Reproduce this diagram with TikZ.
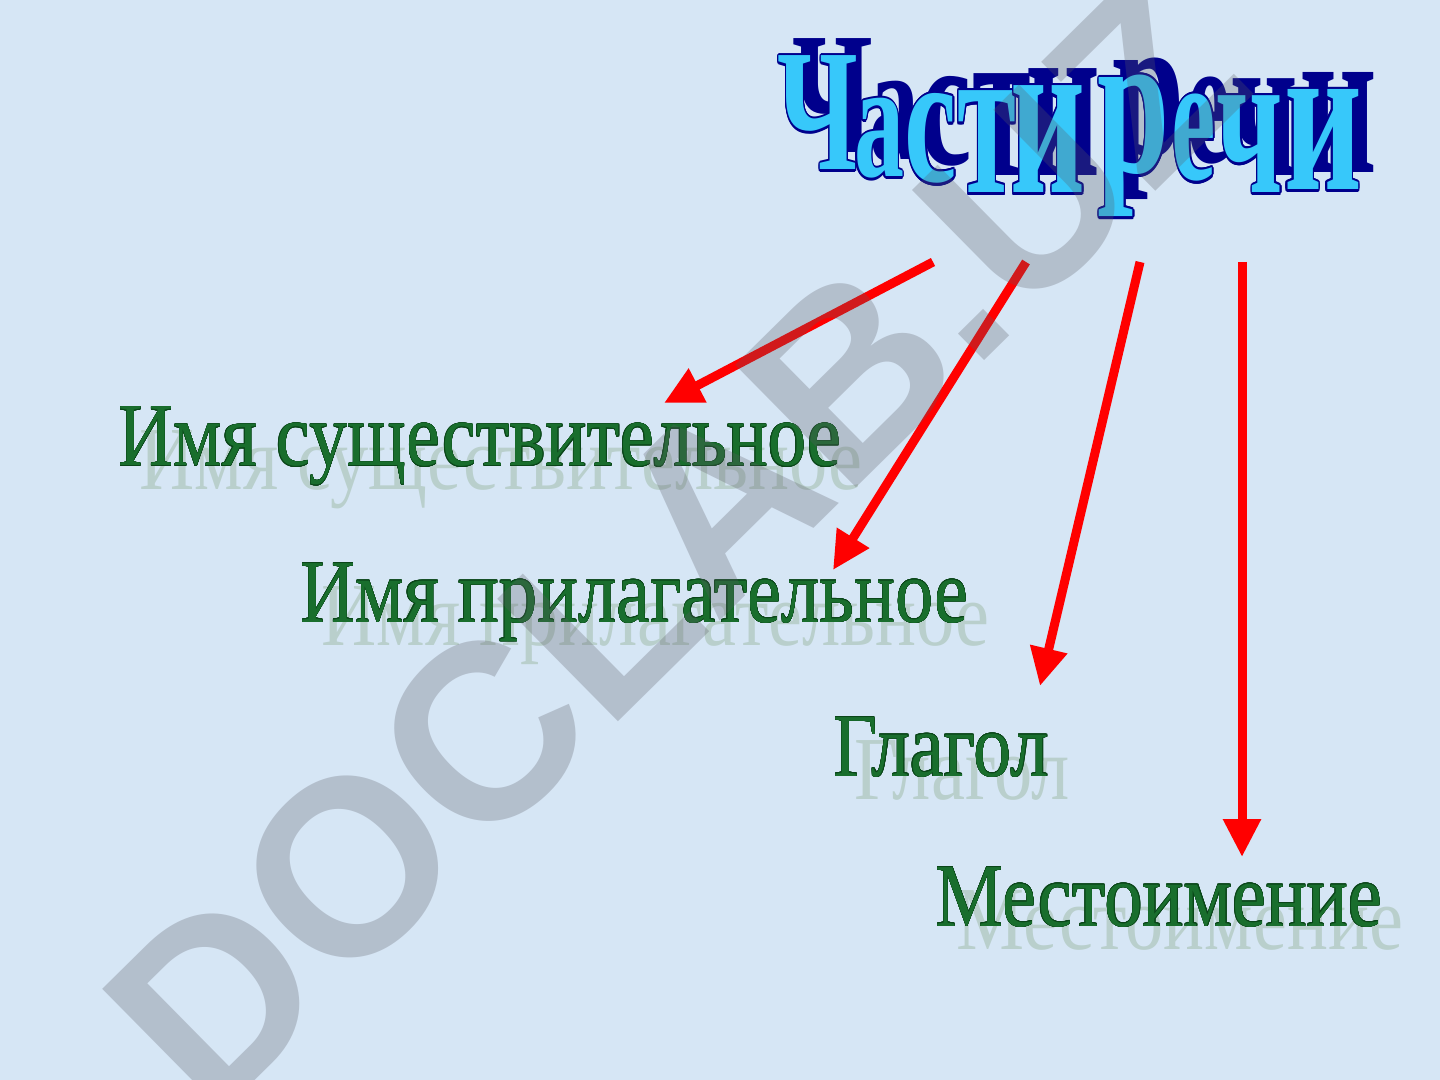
\documentclass[tikz,border=0pt]{standalone}
\usepackage{fontspec}
\setmainfont{Liberation Serif}
\newfontfamily\markfont{Liberation Sans}
\usepackage{graphicx}
\usepackage{contour}
\contourlength{0.6pt}
\usetikzlibrary{%
  arrows.meta,%
  positioning,%
  calc%
}

\definecolor{slidebg}{RGB}{214,230,245}
\definecolor{titlelight}{RGB}{55,200,250}
\definecolor{titledark}{RGB}{0,0,140}
\definecolor{partgreen}{RGB}{25,110,45}
\definecolor{partedge}{RGB}{10,70,25}
\definecolor{partshade}{RGB}{150,180,155}
\definecolor{arrowred}{RGB}{255,0,0}
\definecolor{markgray}{RGB}{90,90,100}

\newcommand{\squeeze}[1]{\scalebox{0.85}[1]{#1}}

\begin{document}
\begin{tikzpicture}[
  x=0.5pt, y=-0.5pt,
  part/.style={anchor=base west, inner sep=0pt, text=partgreen, font=\fontsize{45}{45}\selectfont},
  partshadow/.style={part, text=partshade, opacity=0.45},
  letter/.style={anchor=base, inner sep=0pt, font=\bfseries\fontsize{50}{50}\selectfont},
  redarrow/.style={draw=arrowred, line width=4.5pt, -{Triangle[length=19pt,width=18pt]}}]

\useasboundingbox (0,0) rectangle (1440,1080);
\fill[slidebg] (0,0) rectangle (1440,1080);

% parts of speech
\node[partshadow] (nounsh) at (139,489) {\squeeze{Имя существительное}};
\node[part] (noun) at (118,466) {\squeeze{\contourlength{0.2pt}\contour{partedge}{Имя существительное}}};
\node[partshadow] (adjsh) at (321,645) {\squeeze{Имя прилагательное}};
\node[part] (adj) at (300,622) {\squeeze{\contourlength{0.2pt}\contour{partedge}{Имя прилагательное}}};
\node[partshadow] (verbsh) at (854,799) {\squeeze{Глагол}};
\node[part] (verb) at (833,776) {\squeeze{\contourlength{0.2pt}\contour{partedge}{Глагол}}};
\node[partshadow] (pronsh) at (956,949) {\squeeze{Местоимение}};
\node[part] (pron) at (935,926) {\squeeze{\contourlength{0.2pt}\contour{partedge}{Местоимение}}};

% title, letter by letter
\foreach \ch/\cx/\by/\sx/\sy [count=\i] in {Ч/818/170/1.1/1.74, а/879/177/1.0/1.67,
  с/931/182/1.18/1.87, т/987/193/1.2/2.22, и/1048/193/1.3/2.33, р/1134/173/1.3/2.07,
  е/1194/180/1.0/1.82, ч/1250/193/1.18/2.11, и/1323/190/1.35/2.18} {
  \node[letter, text=titledark] (sh\i) at (\cx+15,\by-17) {\scalebox{\sx}[\sy]{\ch}};
}
\foreach \ch/\cx/\by/\sx/\sy [count=\i] in {Ч/818/170/1.1/1.74, а/879/177/1.0/1.67,
  с/931/182/1.18/1.87, т/987/193/1.2/2.22, и/1048/193/1.3/2.33, р/1134/173/1.3/2.07,
  е/1194/180/1.0/1.82, ч/1250/193/1.18/2.11, и/1323/190/1.35/2.18} {
  \node[letter, text=titlelight] (t\i) at (\cx,\by) {\scalebox{\sx}[\sy]{\contour{titledark}{\ch}}};
}

% arrows
\coordinate (s1) at (933,262);
\coordinate (s2) at (1026,262);
\coordinate (s3) at (1140,262);
\coordinate (s4) at (1242,262);
\coordinate (e1) at (664,403);
\coordinate (e2) at (833,570);
\coordinate (e3) at (1040,686);
\coordinate (e4) at (1242,857);
\draw[redarrow] (s1) -- (e1);
\draw[redarrow] (s2) -- (e2);
\draw[redarrow] (s3) -- (e3);
\draw[redarrow] (s4) -- (e4);

% watermark
\node[rotate=44.6, text=markgray, opacity=0.28, inner sep=0pt,
  font=\markfont\bfseries\fontsize{125}{125}\selectfont] (mark) at (675,545) {DOCLAB.UZ};

\end{tikzpicture}
\end{document}
